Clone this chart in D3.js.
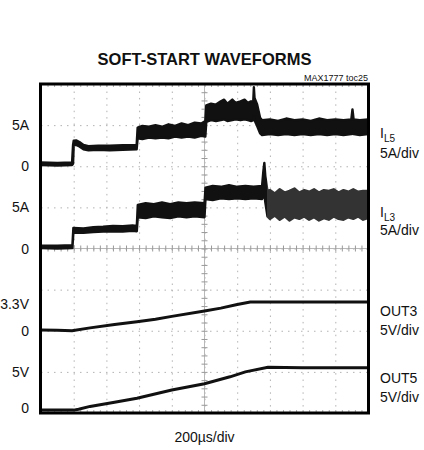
<!DOCTYPE html>
<html>
<head>
<meta charset="utf-8">
<script src="https://cdn.jsdelivr.net/npm/d3@7"></script>
<style>
  body { margin: 0; background: #fff; }
  text { font-family: "Liberation Sans", Arial, sans-serif; fill: #111; }
</style>
</head>
<body>
<div id="scope"></div>
<script>
// time base: 200us/div over 10 div
var timeDomain = [0, 2000];
var xDivs = 10, yDivs = 8;

// channels, volts/amps per div and ground position (in div)
var channels = ["IL5", "IL3", "OUT3", "OUT5"];
var chPerDiv = [5, 5, 5, 5];
var chZeroDiv = [6, 4, 2, 0];
var chName = [["I", "L5"], ["I", "L3"], ["OUT3", ""], ["OUT5", ""]];
var chScaleText = ["5A/div", "5A/div", "5V/div", "5V/div"];

// left side markers: channel index, value, text
var markerCh = [0, 0, 1, 1, 2, 2, 3, 3];
var markerVal = [5, 0, 5, 0, 3.3, 0, 5, 0];
var markerText = ["5A", "0", "5A", "0", "3.3V", "0", "5V", "0"];

// inductor currents, [time us, low A, high A] envelope of the noisy trace
var il5 = [
  [0, 0.15, 0.45], [100, 0.1, 0.4], [190, 0.15, 0.45],
  [196, 0.3, 2.6], [200, 2.55, 3.1], [215, 2.6, 3.15], [235, 2.4, 2.95], [260, 2.05, 2.6],
  [290, 1.95, 2.45], [350, 2.0, 2.5], [420, 1.95, 2.5], [500, 2.0, 2.55], [585, 2.05, 2.6],
  [591, 3.4, 4.7], [620, 3.3, 4.9], [660, 3.5, 4.8], [700, 3.4, 5.0], [740, 3.5, 4.8],
  [780, 3.4, 5.1], [820, 3.6, 4.9], [860, 3.5, 5.2], [900, 3.6, 5.0], [940, 3.5, 5.3],
  [980, 3.7, 5.2], [1005, 3.6, 5.5],
  [1011, 5.4, 7.4], [1040, 5.6, 7.6], [1070, 5.5, 7.5], [1100, 5.6, 7.9], [1120, 5.7, 8.1],
  [1140, 5.5, 7.6], [1170, 5.6, 8.1], [1190, 5.7, 7.7], [1220, 5.6, 7.9], [1245, 5.7, 8.1],
  [1265, 5.6, 7.7], [1285, 5.5, 7.9], [1298, 5.6, 7.8], [1302, 6.0, 9.6], [1306, 5.6, 8.3],
  [1322, 4.9, 7.5], [1340, 4.0, 5.9], [1352, 3.8, 5.6], [1400, 3.9, 5.7], [1450, 3.8, 5.5],
  [1500, 3.9, 5.8], [1550, 3.8, 5.6], [1600, 3.9, 5.7], [1650, 3.8, 5.5], [1700, 3.9, 5.8],
  [1750, 3.8, 5.6], [1800, 3.9, 5.7], [1850, 3.8, 5.6], [1898, 3.9, 5.7], [1905, 4.0, 6.9],
  [1912, 3.9, 5.7], [1950, 3.8, 5.6], [2000, 3.9, 5.7]
];

var il3 = [
  [0, 0.05, 0.35], [100, 0.0, 0.35], [192, 0.05, 0.4],
  [198, 1.9, 2.5], [260, 1.9, 2.45], [320, 2.0, 2.6], [380, 2.05, 2.65], [440, 2.1, 2.75],
  [500, 2.05, 2.7], [560, 2.15, 2.8], [586, 2.1, 2.75],
  [592, 3.8, 5.3], [640, 3.7, 5.5], [690, 3.9, 5.4], [740, 3.8, 5.6], [790, 3.7, 5.4],
  [840, 3.9, 5.6], [890, 3.8, 5.5], [940, 3.9, 5.6], [1000, 3.8, 5.5],
  [1006, 6.0, 7.4], [1050, 5.9, 7.6], [1100, 6.1, 7.5], [1150, 6.0, 7.7], [1200, 6.1, 7.5],
  [1250, 6.0, 7.6], [1300, 6.1, 7.5], [1352, 6.0, 7.6],
  [1360, 6.4, 9.4], [1366, 6.6, 10.4], [1372, 5.6, 8.8], [1385, 3.9, 7.0],
  [1400, 3.6, 7.1], [1430, 4.0, 6.7], [1460, 3.5, 7.2], [1490, 3.9, 6.8], [1520, 3.4, 7.0],
  [1550, 3.8, 7.3], [1580, 3.6, 6.8], [1610, 3.9, 7.1], [1640, 3.5, 6.9], [1670, 3.8, 7.2],
  [1700, 3.4, 6.8], [1730, 3.7, 7.1], [1760, 3.5, 7.0], [1790, 3.9, 7.2], [1820, 3.6, 6.8],
  [1850, 3.5, 7.1], [1880, 3.8, 6.9], [1910, 3.6, 7.2], [1940, 3.9, 6.9], [1970, 3.5, 7.0],
  [2000, 3.7, 7.0]
];
// start of the IL3 ripple section (us)
var il3RippleStart = 1385;

// output voltages, [time us, V]
var out3 = [
  [0, 0.1], [100, 0.05], [190, 0.0], [300, 0.35], [450, 0.75], [587, 1.1], [700, 1.4],
  [800, 1.75], [1000, 2.4], [1100, 2.75], [1200, 3.2], [1280, 3.5], [1500, 3.5], [1800, 3.5], [2000, 3.5]
];

var out5 = [
  [0, 0.35], [200, 0.35], [230, 0.45], [300, 0.8], [450, 1.3], [587, 1.8], [800, 2.8],
  [1000, 3.55], [1156, 4.4], [1250, 5.0], [1388, 5.55], [1600, 5.5], [1800, 5.5], [2000, 5.5]
];

var W = 424, H = 450;
var svg = d3.select("#scope").append("svg")
  .attr("width", W)
  .attr("height", H);
svg.append("rect").attr("width", W).attr("height", H).attr("fill", "#fff");

var plotL = 41, plotR = 368, plotT = 84, plotB = 413;

var x = d3.scaleLinear().domain(timeDomain).range([plotL, plotR]);
var yDiv = d3.scaleLinear().domain([0, yDivs]).range([plotB, plotT]);

// value of channel c -> pixel
function yCh(c, v) { return yDiv(chZeroDiv[c] + v / chPerDiv[c]); }

var tDiv = (timeDomain[1] - timeDomain[0]) / xDivs;
var majorT = d3.range(1, xDivs).map(function(i) { return i * tDiv; });
var minorT = d3.range(1, xDivs * 5).map(function(i) { return i * tDiv / 5; });
var majorY = d3.range(1, yDivs);
var minorY = d3.range(1, yDivs * 5).map(function(i) { return i / 5; });

// dotted graticule
svg.append("g")
  .attr("transform", "translate(0," + plotB + ")")
  .call(d3.axisBottom(x).tickValues(majorT).tickSize(-(plotB - plotT)).tickFormat(""))
  .call(function(g) { g.select(".domain").remove(); })
  .selectAll("line")
    .attr("stroke", "#b2b2b2")
    .attr("stroke-dasharray", "1.5,4.9");

svg.append("g")
  .attr("transform", "translate(" + plotL + ",0)")
  .call(d3.axisLeft(yDiv).tickValues(majorY).tickSize(-(plotR - plotL)).tickFormat(""))
  .call(function(g) { g.select(".domain").remove(); })
  .selectAll("line")
    .attr("stroke", "#b2b2b2")
    .attr("stroke-dasharray", "1.5,5");

// centre cross with small ticks
var xc = x(tDiv * xDivs / 2), yc = yDiv(yDivs / 2);
svg.append("line").attr("x1", plotL).attr("x2", plotR).attr("y1", yc).attr("y2", yc)
  .attr("stroke", "#b8b8b8");
svg.append("line").attr("x1", xc).attr("x2", xc).attr("y1", plotT).attr("y2", plotB)
  .attr("stroke", "#b8b8b8");

svg.append("g")
  .attr("transform", "translate(0," + (yc - 3) + ")")
  .call(d3.axisBottom(x).tickValues(minorT).tickSize(6).tickFormat(""))
  .call(function(g) { g.select(".domain").remove(); })
  .selectAll("line").attr("stroke", "#999");

svg.append("g")
  .attr("transform", "translate(" + (xc + 3) + ",0)")
  .call(d3.axisLeft(yDiv).tickValues(minorY).tickSize(6).tickFormat(""))
  .call(function(g) { g.select(".domain").remove(); })
  .selectAll("line").attr("stroke", "#999");

// edge ticks
svg.append("g")
  .attr("transform", "translate(0," + plotB + ")")
  .call(d3.axisTop(x).tickValues(minorT).tickSize(3).tickFormat(""))
  .call(function(g) { g.select(".domain").remove(); })
  .selectAll("line").attr("stroke", "#aaa");
svg.append("g")
  .attr("transform", "translate(0," + plotT + ")")
  .call(d3.axisBottom(x).tickValues(minorT).tickSize(3).tickFormat(""))
  .call(function(g) { g.select(".domain").remove(); })
  .selectAll("line").attr("stroke", "#aaa");

// IL3 ripple looks lighter, so a gradient along time
var grad = svg.append("defs").append("linearGradient")
  .attr("id", "il3fill")
  .attr("gradientUnits", "userSpaceOnUse")
  .attr("x1", plotL).attr("x2", plotR).attr("y1", 0).attr("y2", 0);
var rippleFrac = (x(il3RippleStart) - plotL) / (plotR - plotL);
grad.append("stop").attr("offset", rippleFrac).attr("stop-color", "#111");
grad.append("stop").attr("offset", rippleFrac).attr("stop-color", "#333");

// traces
var envArea = function(c) {
  return d3.area()
    .x(function(d) { return x(d[0]); })
    .y0(function(d) { return yCh(c, d[1]); })
    .y1(function(d) { return yCh(c, d[2]); });
};

[il5, il3].forEach(function(data, c) {
  svg.append("path")
    .datum(data)
    .attr("d", envArea(c))
    .attr("fill", c == 1 ? "url(#il3fill)" : "#111")
    .attr("stroke", c == 1 ? "url(#il3fill)" : "#111")
    .attr("stroke-width", 2.4)
    .attr("stroke-linejoin", "round");
});

[out3, out5].forEach(function(data, i) {
  var c = i + 2;
  svg.append("path")
    .datum(data)
    .attr("d", d3.line()
      .x(function(d) { return x(d[0]); })
      .y(function(d) { return yCh(c, d[1]); }))
    .attr("fill", "none")
    .attr("stroke", "#111")
    .attr("stroke-width", 3);
});

// frame
svg.append("rect")
  .attr("x", plotL - 0.5).attr("y", plotT)
  .attr("width", plotR - plotL + 1).attr("height", plotB - plotT)
  .attr("fill", "none")
  .attr("stroke", "#000")
  .attr("stroke-width", 3);

// left markers
svg.selectAll(".marker")
  .data(markerText)
  .enter()
  .append("text")
    .attr("class", "marker")
    .attr("x", 29)
    .attr("y", function(d, i) { return Math.min(yCh(markerCh[i], markerVal[i]), plotB - 5); })
    .attr("dy", "0.36em")
    .attr("text-anchor", "end")
    .style("font-size", "14px")
    .text(function(d) { return d; });

// channel names on the right
var nameDiv = [6.8, 4.89, 2.49, 0.85];
var scaleDiv = [6.32, 4.45, 2.03, 0.4];
channels.forEach(function(ch, c) {
  var t = svg.append("text")
    .attr("x", 380)
    .attr("y", yDiv(nameDiv[c]))
    .attr("dy", "0.36em")
    .style("font-size", "14px");
  t.append("tspan").text(chName[c][0]);
  if (chName[c][1]) {
    t.append("tspan").attr("dy", "4").style("font-size", "10px").text(chName[c][1]);
  }
  svg.append("text")
    .attr("x", 380)
    .attr("y", yDiv(scaleDiv[c]))
    .attr("dy", "0.36em")
    .style("font-size", "14px")
    .text(chScaleText[c]);
});

// titles
svg.append("text")
  .attr("x", (plotL + plotR) / 2)
  .attr("y", 65)
  .attr("text-anchor", "middle")
  .style("font-size", "16.5px")
  .style("font-weight", "bold")
  .text("SOFT-START WAVEFORMS");

svg.append("text")
  .attr("x", plotR)
  .attr("y", 80.5)
  .attr("text-anchor", "end")
  .style("font-size", "9px")
  .text("MAX1777 toc25");

svg.append("text")
  .attr("x", (plotL + plotR) / 2)
  .attr("y", 441.5)
  .attr("text-anchor", "middle")
  .style("font-size", "14px")
  .text("200\u00b5s/div");
</script>
</body>
</html>
